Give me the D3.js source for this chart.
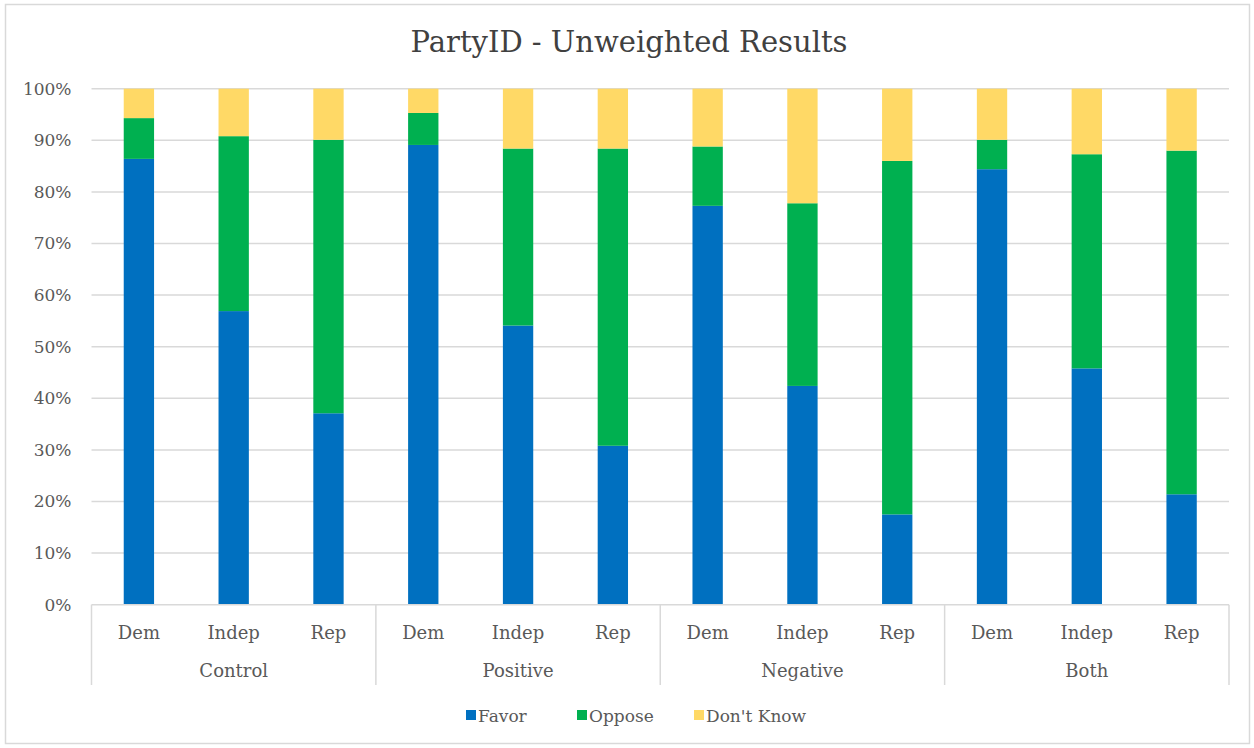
<!DOCTYPE html>
<html>
<head>
<meta charset="utf-8">
<script src="https://cdn.jsdelivr.net/npm/d3@7"></script>
<style>
  body { margin: 0; background: #fff; }
  text { font-family: "DejaVu Serif", serif; fill: #595959; }
</style>
</head>
<body>
<svg></svg>
<script>
// chart values
const groups = ["Control", "Positive", "Negative", "Both"]
const parties = ["Dem", "Indep", "Rep"]
const favor = [86.4, 56.9, 37.1, 89.1, 54.1, 30.8, 77.3, 42.4, 17.5, 84.4, 45.8, 21.4]
const oppose = [7.9, 33.9, 53.0, 6.2, 34.3, 57.6, 11.5, 35.4, 68.5, 5.7, 41.5, 66.6]
const dontKnow = [5.7, 9.2, 9.9, 4.7, 11.6, 11.6, 11.2, 22.2, 14.0, 9.9, 12.7, 12.0]
const seriesNames = ["Favor", "Oppose", "Don't Know"]
const yTicks = [0, 10, 20, 30, 40, 50, 60, 70, 80, 90, 100]

const colors = ["#0070C0", "#00B050", "#FFD966"]

let width = 1254
let height = 748
let plotLeft = 91.5
let plotRight = 1229
let plotTop = 88.7
let plotBottom = 604.7

let svg = d3.select("svg").attr("width", width).attr("height", height)

// outer frame
svg.append("rect")
  .attr("x", 5.5).attr("y", 4.5)
  .attr("width", 1244).attr("height", 739)
  .attr("fill", "#fff")
  .attr("stroke", "#d9d9d9")
  .attr("stroke-width", 1.5)

// rows built from arrays
let rows = []
groups.forEach((g, gi) => {
  parties.forEach((p, pi) => {
    let i = gi * parties.length + pi
    rows.push({ group: g, party: p, "Favor": favor[i], "Oppose": oppose[i], "Don't Know": dontKnow[i] })
  })
})

let yScale = d3.scaleLinear().domain([0, 100]).range([plotBottom, plotTop])
let groupScale = d3.scaleBand().domain(groups).range([plotLeft, plotRight]).padding(0)
let partyScale = d3.scaleBand().domain(parties).range([0, groupScale.bandwidth()])
  .paddingInner(0.68).paddingOuter(0.34)

// gridlines
svg.append("g")
  .selectAll("line")
  .data(yTicks.filter(d => d > 0))
  .enter()
  .append("line")
  .attr("x1", plotLeft).attr("x2", plotRight)
  .attr("y1", d => yScale(d)).attr("y2", d => yScale(d))
  .attr("stroke", "#d9d9d9")
  .attr("stroke-width", 1.5)

// y axis labels
let yAxis = d3.axisLeft(yScale).tickValues(yTicks).tickFormat(d => d + "%").tickSize(0).tickPadding(20)
let yG = svg.append("g").attr("transform", "translate(" + plotLeft + ",0)").call(yAxis)
yG.select(".domain").remove()
yG.selectAll("text").style("font-family", "'DejaVu Serif', serif").style("font-size", "17px").attr("fill", "#595959")

// stacked bars
let stack = d3.stack().keys(seriesNames)
let stacked = stack(rows)

svg.append("g")
  .selectAll("g")
  .data(stacked)
  .enter()
  .append("g")
  .attr("fill", (d, i) => colors[i])
  .selectAll("rect")
  .data(d => d)
  .enter()
  .append("rect")
  .attr("x", d => groupScale(d.data.group) + partyScale(d.data.party))
  .attr("width", partyScale.bandwidth())
  .attr("y", d => yScale(d[1]))
  .attr("height", d => yScale(d[0]) - yScale(d[1]))

// category axis
let xG = svg.append("g")
xG.append("line")
  .attr("x1", plotLeft).attr("x2", plotRight)
  .attr("y1", plotBottom).attr("y2", plotBottom)
  .attr("stroke", "#d9d9d9").attr("stroke-width", 1.5)

let sepX = groups.map(g => groupScale(g)).concat([plotRight])
xG.selectAll(".sep")
  .data(sepX)
  .enter()
  .append("line")
  .attr("class", "sep")
  .attr("x1", d => d).attr("x2", d => d)
  .attr("y1", plotBottom).attr("y2", 685)
  .attr("stroke", "#d9d9d9").attr("stroke-width", 1.5)

xG.selectAll(".party")
  .data(rows)
  .enter()
  .append("text")
  .attr("class", "party")
  .attr("x", d => groupScale(d.group) + partyScale(d.party) + partyScale.bandwidth() / 2)
  .attr("y", 639)
  .attr("text-anchor", "middle")
  .style("font-size", "18px")
  .text(d => d.party)

xG.selectAll(".group")
  .data(groups)
  .enter()
  .append("text")
  .attr("class", "group")
  .attr("x", d => groupScale(d) + groupScale.bandwidth() / 2)
  .attr("y", 677)
  .attr("text-anchor", "middle")
  .style("font-size", "18px")
  .text(d => d)

// title
svg.append("text")
  .attr("x", 629)
  .attr("y", 52)
  .attr("text-anchor", "middle")
  .style("font-size", "29px")
  .style("fill", "#404040")
  .text("PartyID - Unweighted Results")

// legend
let legendX = [466, 577, 694]
let legend = svg.append("g")
  .selectAll("g")
  .data(seriesNames)
  .enter()
  .append("g")
  .attr("transform", (d, i) => "translate(" + legendX[i] + ",0)")

legend.append("rect")
  .attr("x", 0).attr("y", 710)
  .attr("width", 10).attr("height", 10)
  .attr("fill", (d, i) => colors[i])

legend.append("text")
  .attr("x", 12).attr("y", 722)
  .style("font-size", "17px")
  .text(d => d)
</script>
</body>
</html>
